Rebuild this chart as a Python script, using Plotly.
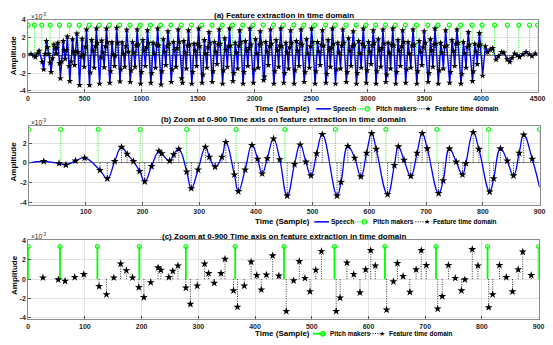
import plotly.graph_objects as go

W, H = 553, 345

# ---------------- data (amplitudes in units of 1e-3) ----------------
# feature points (b)/(c) zoom, 0-900 samples
feat_t = [26, 53, 65, 82, 98, 125, 138, 151, 163, 173, 184, 195, 204, 216, 229,
          234, 248, 255, 264, 278, 286, 298, 311, 318, 328, 340, 347, 362, 369, 381,
          393, 403, 411, 420, 431, 442, 455, 468, 478, 488, 497, 507, 517, 543, 550,
          562, 574, 585, 595, 604, 612, 632, 644, 651, 661, 673, 684, 693, 702, 722,
          730, 741, 753, 764, 770, 783, 793, 812, 819, 831, 843, 854, 864, 872, 887]
feat_v = [0.15, -0.05, -0.2, 0.2, 0.5, -0.75, -1.6, 0.15, 1.6, 0.9, 0.15, -0.85, -1.9, -0.35, 1.2,
          0.95, 0.2, 0.85, 1.4, -0.9, -2.6, -0.7, 1.6, 0.6, -0.4, 0.6, 2.1, -1.2, -2.9, -0.7,
          1.8, 0.4, -1.1, 0.45, 2.45, 0.35, -3.35, -0.15, 1.85, 0.1, -1.3, 0.95, 2.9, -3.35, -1.95,
          1.7, 0.5, -1.4, 1.0, 3.0, 1.4, -3.2, -0.25, 1.65, 0.3, -1.35, 1.0, 3.0, 1.45, -3.1,
          -1.8, 1.45, 0.1, -1.2, -0.05, 3.1, 1.4, -2.95, -1.6, 1.45, 0.2, -1.3, 1.0, 2.85, 0.4]

# speech curve end points in the 0-900 window
speech_edge_t = [0, 900]
speech_edge_v = [0.0, -2.5]

# feature points, 900-4500 samples
feat_t_tail = [
    903, 911, 923, 934, 945, 955, 964, 973,
    994, 1002, 1014, 1025, 1036, 1046, 1055, 1064,
    1084, 1092, 1104, 1115, 1126, 1136, 1145, 1154,
    1175, 1183, 1195, 1206, 1217, 1227, 1236, 1245,
    1265, 1273, 1285, 1296, 1307, 1317, 1326, 1335,
    1356, 1364, 1376, 1387, 1398, 1408, 1417, 1426,
    1446, 1454, 1466, 1477, 1488, 1498, 1507, 1516,
    1537, 1545, 1557, 1568, 1579, 1589, 1598, 1607,
    1627, 1635, 1647, 1658, 1669, 1679, 1688, 1697,
    1718, 1726, 1738, 1749, 1760, 1770, 1779, 1788,
    1809, 1817, 1829, 1840, 1851, 1861, 1870, 1879,
    1899, 1907, 1919, 1930, 1941, 1951, 1960, 1969,
    1990, 1998, 2010, 2021, 2032, 2042, 2051, 2060,
    2080, 2088, 2100, 2111, 2122, 2132, 2141, 2150,
    2171, 2179, 2191, 2202, 2213, 2223, 2232, 2241,
    2258, 2266, 2278, 2289, 2300, 2310, 2319, 2328,
    2350, 2358, 2370, 2381, 2392, 2402, 2411, 2420,
    2439, 2447, 2460, 2472, 2484, 2494, 2504, 2514,
    2535, 2543, 2556, 2568, 2580, 2590, 2600, 2610,
    2631, 2639, 2650, 2660, 2670, 2679, 2688, 2697,
    2715, 2723, 2736, 2748, 2760, 2770, 2780, 2790,
    2811, 2819, 2831, 2842, 2853, 2863, 2872, 2881,
    2900, 2908, 2920, 2931, 2942, 2952, 2961, 2970,
    2987, 2995, 3007, 3018, 3029, 3039, 3048, 3057,
    3073, 3081, 3093, 3104, 3115, 3125, 3134, 3143,
    3160, 3168, 3180, 3191, 3202, 3212, 3221, 3230,
    3247, 3255, 3267, 3278, 3289, 3299, 3308, 3317,
    3335, 3343, 3356, 3368, 3380, 3390, 3400, 3410,
    3433, 3441, 3454, 3466, 3478, 3488, 3498, 3508,
    3533, 3541, 3553, 3564, 3575, 3585, 3594, 3603,
    3623, 3631, 3644, 3656, 3668, 3678, 3688, 3698,
    3723, 3731, 3744, 3756, 3768, 3778, 3788, 3798,
    3823, 3831, 3844, 3856, 3868, 3878, 3888, 3898,
    3925, 3933, 3945, 3956, 3967, 3977, 3986, 3995,
    4014, 4038, 4058, 4081, 4104, 4133, 4153, 4182,
    4202, 4231, 4254, 4274, 4297, 4320, 4340, 4369,
    4398, 4427, 4450, 4479,
]
feat_v_tail = [
    -3.0, -1.7, 1.5, 0.3, -1.3, 1.1, 2.9, 1.2,
    -3.2, -1.9, 1.7, 0.5, -1.2, 0.9, 2.8, 1.4,
    -3.1, -2.0, 1.4, 0.2, -1.4, 1.2, 3.0, 1.1,
    -3.3, -1.8, 1.8, 0.4, -1.1, 1.0, 2.7, 1.3,
    -3.0, -1.6, 1.5, 0.6, -1.3, 0.8, 2.9, 1.5,
    -2.6, -3.1, 1.6, 0.3, -1.5, 1.1, 2.8, 1.2,
    -3.2, -1.9, 1.3, 0.5, -1.2, 1.3, 3.0, 1.0,
    -3.1, -2.2, 1.7, 0.2, -1.4, 0.9, 2.6, 1.4,
    -3.0, -1.8, 1.5, 0.4, -1.0, 1.2, 2.9, 1.3,
    -3.2, -1.7, 1.9, 0.6, -1.3, 1.0, 3.0, 1.1,
    -2.9, -2.0, 1.4, 0.3, -1.5, 1.1, 2.8, 1.5,
    -3.2, -1.9, 1.6, 0.5, -1.2, 0.8, 3.0, 1.2,
    -3.1, -1.6, 1.8, 0.2, -1.4, 1.2, 2.7, 1.4,
    -2.8, -2.4, 1.5, 0.4, -1.1, 1.0, 2.9, 1.3,
    -3.2, -1.8, 1.7, 0.6, -1.3, 1.1, 3.0, 1.0,
    -3.1, -2.0, 1.4, 0.3, -1.5, 0.9, 2.8, 1.4,
    -3.2, -1.7, 1.6, 0.5, -1.2, 1.3, 2.9, 1.2,
    -3.0, -1.9, 1.8, 0.2, -1.4, 1.0, 3.0, 1.5,
    -3.2, -1.8, 1.5, 0.4, -1.1, 1.2, 2.8, 1.1,
    -3.1, -2.1, 1.7, 0.6, -1.3, 0.9, 3.0, 1.3,
    -3.2, -1.6, 1.4, 0.3, -1.5, 1.1, 2.9, 1.4,
    -3.0, -1.9, 1.9, 0.5, -1.2, 1.0, 2.7, 1.2,
    -3.2, -2.0, 1.6, 0.2, -1.4, 1.3, 3.0, 1.0,
    -3.1, -1.7, 1.5, 0.4, -1.0, 1.1, 2.8, 1.4,
    -3.2, -1.8, 1.8, 0.6, -1.3, 0.8, 2.9, 1.3,
    -3.0, -2.2, 1.4, 0.3, -1.5, 1.2, 3.0, 1.1,
    -3.2, -1.9, 1.7, 0.5, -1.2, 1.0, 2.8, 1.5,
    -3.1, -1.6, 1.5, 0.2, -1.4, 1.1, 2.9, 1.2,
    -3.2, -1.8, 1.6, 0.4, -1.1, 0.9, 2.7, 1.4,
    -3.0, -2.0, 1.8, 0.6, -1.3, 1.2, 3.0, 1.3,
    -3.2, -1.7, 1.4, 0.3, -1.5, 1.0, 2.8, 1.1,
    -3.1, -1.9, 1.7, 0.5, -1.2, 1.3, 2.9, 1.4,
    -3.2, -2.1, 1.5, 0.2, -1.4, 0.9, 2.6, 1.2,
    -2.9, -1.8, 1.3, 0.4, -1.0, 1.1, 2.5, 1.2,
    -2.3, 1.0, 0.35, 0.65, 0.8, -0.5, -0.1, 0.35,
    0.3, -0.45, -0.75, -0.3, 0.2, 0.0, -0.2, 0.1,
    0.35, 0.1, -0.1, 0.2,
]
speech_end_t = 4500
speech_end_v = 0.1

# pitch markers (sample positions) and their stem height
pitch_t = [0, 56, 122, 196, 278, 365, 451, 540, 629, 719, 810, 900,
           991, 1081, 1172, 1262, 1353, 1443, 1534, 1624, 1715, 1806, 1896, 1987,
           2077, 2168, 2255, 2347, 2436, 2532, 2628, 2712, 2808, 2897, 2984, 3070,
           3157, 3244, 3332, 3430, 3530, 3620, 3720, 3820, 3922, 4009, 4120, 4233,
           4334, 4429, 4500]
pitch_height = 3.4

x_ticks_a = [0, 500, 1000, 1500, 2000, 2500, 3000, 3500, 4000, 4500]
x_ticks_b = [100, 200, 300, 400, 500, 600, 700, 800, 900]
x_ticks_c = [0, 100, 200, 300, 400, 500, 600, 700, 800, 900]
y_ticks = [-4, -2, 0, 2, 4]

assert len(feat_t) == len(feat_v) and len(feat_t_tail) == len(feat_v_tail)

# ---------------- derived series ----------------
speech_b_t = [speech_edge_t[0]] + feat_t + [speech_edge_t[1]]
speech_b_v = [speech_edge_v[0]] + feat_v + [speech_edge_v[1]]
speech_a_t = speech_b_t + feat_t_tail + [speech_end_t]
speech_a_v = speech_b_v + feat_v_tail + [speech_end_v]
feat_a_t = feat_t + feat_t_tail
feat_a_v = feat_v + feat_v_tail
pitch_b_t = [t for t in pitch_t if t <= 900]


def stem_xy(ts, vs):
    xs, ys = [], []
    for t, v in zip(ts, vs):
        xs += [t, t, None]
        ys += [0, v, None]
    return xs, ys


BLUE = '#0000ff'
GREEN = '#00ff00'
FONT = 'Liberation Sans, Arial, sans-serif'
DOT = '1px,1.4px'

fig = go.Figure()


def add_panel(xa, ya, sp_t, sp_v, p_t, f_t, f_v, pitch_solid, shape, star_size, sp_w):
    if sp_t is not None:
        fig.add_trace(go.Scatter(x=sp_t, y=sp_v, mode='lines', xaxis=xa, yaxis=ya,
                                 line=dict(color=BLUE, width=sp_w, shape=shape, smoothing=1.3),
                                 showlegend=False, hoverinfo='skip'))
    px_, py_ = stem_xy(p_t, [pitch_height] * len(p_t))
    fig.add_trace(go.Scatter(x=px_, y=py_, mode='lines', xaxis=xa, yaxis=ya,
                             line=dict(color=GREEN, width=1.8 if pitch_solid else 1,
                                       dash='solid' if pitch_solid else DOT),
                             showlegend=False, hoverinfo='skip'))
    fig.add_trace(go.Scatter(x=p_t, y=[pitch_height] * len(p_t), mode='markers', xaxis=xa, yaxis=ya,
                             marker=dict(symbol='circle-open', size=4, color=GREEN, line=dict(width=1.2)),
                             showlegend=False, hoverinfo='skip'))
    fx, fy = stem_xy(f_t, f_v)
    fig.add_trace(go.Scatter(x=fx, y=fy, mode='lines', xaxis=xa, yaxis=ya,
                             line=dict(color='black', width=0.8, dash=DOT),
                             showlegend=False, hoverinfo='skip'))
    fig.add_trace(go.Scatter(x=f_t, y=f_v, mode='markers', xaxis=xa, yaxis=ya,
                             marker=dict(symbol='star', size=star_size, color='black'),
                             showlegend=False, hoverinfo='skip'))


add_panel('x', 'y', speech_a_t, speech_a_v, pitch_t, feat_a_t, feat_a_v, False, 'linear', 5, 1.4)
add_panel('x2', 'y2', speech_b_t, speech_b_v, pitch_b_t, feat_t, feat_v, False, 'spline', 6, 1.3)
add_panel('x3', 'y3', None, None, pitch_b_t, feat_t, feat_v, True, 'linear', 6, 1.3)


def PX(x):
    return x / W


def PY(y):
    return 1 - y / H


def xax(dom, rng, ticks, anchor):
    return dict(domain=[PX(dom[0]), PX(dom[1])], range=rng, tickvals=ticks,
                ticktext=[str(t) for t in ticks], anchor=anchor, ticklabeloverflow='allow',
                ticks='inside', ticklen=3, tickcolor='#555', showline=True, linecolor='#8c8c8c',
                mirror=True, showgrid=True, gridcolor='#e3e3e3', gridwidth=1, zeroline=False,
                tickfont=dict(family=FONT, size=7, color='#262626', weight='bold'))


def yax(dom, rng, anchor, zero):
    return dict(domain=[PY(dom[1]), PY(dom[0])], range=rng, tickvals=y_ticks,
                ticktext=[str(t) for t in y_ticks], anchor=anchor, ticklabeloverflow='allow',
                ticks='inside', ticklen=3, tickcolor='#555', showline=True, linecolor='#8c8c8c',
                mirror=True, showgrid=True, gridcolor='#e3e3e3', gridwidth=1,
                zeroline=zero, zerolinecolor='#8c8c8c', zerolinewidth=1,
                tickfont=dict(family=FONT, size=7, color='#262626', weight='bold'))


fig.update_layout(
    width=W, height=H, margin=dict(l=0, r=0, t=0, b=0), autosize=False,
    paper_bgcolor='white', plot_bgcolor='white', showlegend=False,
    xaxis=xax((26.5, 545.5), [0, 4500], x_ticks_a, 'y'),
    yaxis=yax((16, 89.5), [-4.12, 4.0], 'x', True),
    xaxis2=xax((27.5, 547.5), [0, 900], x_ticks_b, 'y2'),
    yaxis2=yax((124, 204.5), [-4.28, 3.77], 'x2', True),
    xaxis3=xax((26.7, 546.5), [0, 900], x_ticks_c, 'y3'),
    yaxis3=yax((240, 321), [-4.2, 4.1], 'x3', False),
)

ann = []
shapes = []


def text(x, y, s, size=8, bold=True, xanchor='center', angle=0, color='black'):
    ann.append(dict(x=PX(x), y=PY(y), xref='paper', yref='paper', text=s, showarrow=False,
                    xanchor=xanchor, yanchor='middle', textangle=angle,
                    font=dict(family=FONT, size=size, color=color,
                              weight='bold' if bold else 'normal')))


titles = [(11.5, '(a) Feature extraction in time domain'),
          (117.5, '(b) Zoom at 0-900 Time axis on feature extraction in time domain'),
          (236.5, '(c) Zoom at 0-900 Time axis on feature extraction in time domain')]
for y, s in titles:
    text(287, y, s, size=8)

for y in (106.7, 221.7, 335.5):
    text(286, y, 'Time (Sample)', size=8)

for y in (52.5, 160.5, 276):
    text(12, y, 'Amplitude', size=8, angle=-90)

for y in (12.5, 120, 236.5):
    text(27, y, '×10<sup>-3</sup>', size=6.5, bold=False, xanchor='left', color='#262626')


def leg_line(x0, x1, y, color, dash, width=1.2):
    shapes.append(dict(type='line', xref='paper', yref='paper', x0=PX(x0), x1=PX(x1),
                       y0=PY(y), y1=PY(y), line=dict(color=color, width=width, dash=dash)))


def leg_circle(x, y):
    shapes.append(dict(type='circle', xref='paper', yref='paper', xsizemode='pixel',
                       ysizemode='pixel', xanchor=PX(x), yanchor=PY(y), x0=-2.2, x1=2.2,
                       y0=-2.2, y1=2.2, line=dict(color=GREEN, width=1.2)))


def leg_star(x, y):
    ann.append(dict(x=PX(x), y=PY(y), xref='paper', yref='paper', text='★', showarrow=False,
                    xanchor='center', yanchor='middle',
                    font=dict(family='DejaVu Sans', size=7, color='black')))


def leg_text(x, y, s):
    text(x, y, s, size=6.5, xanchor='left')


# legend (a)
y = 106.7
leg_line(320, 335, y, BLUE, 'solid', 1.5)
leg_text(335.5, y, 'Speech')
leg_line(362, 376, y, GREEN, DOT, 1.2)
leg_circle(372, y)
leg_text(379, y, 'Pitch makers')
leg_line(422, 436, y, 'black', DOT, 1)
leg_star(433.5, y)
leg_text(439, y, 'Feature time domain')

# legend (b)
y = 221.7
leg_line(318, 333, y, BLUE, 'solid', 1.5)
leg_text(333.5, y, 'Speech')
leg_line(357, 373, y, GREEN, DOT, 1.2)
leg_circle(369, y)
leg_text(376, y, 'Pitch makers')
leg_line(421, 435, y, 'black', DOT, 1)
leg_star(433, y)
leg_text(437, y, 'Feature time domain')

# legend (c)
y = 335.5
leg_line(316.5, 330, y, GREEN, 'solid', 1.8)
leg_circle(326.7, y)
leg_text(331.5, y, 'Pitch makers')
leg_line(375, 386, y, 'black', DOT, 1)
leg_star(387, y)
leg_text(392, y, 'Feature time domain')

fig.update_layout(annotations=ann, shapes=shapes)

fig.write_html('out.html', config={'displayModeBar': False},
               post_script="document.body.style.margin='0';document.body.style.overflow='hidden';")
